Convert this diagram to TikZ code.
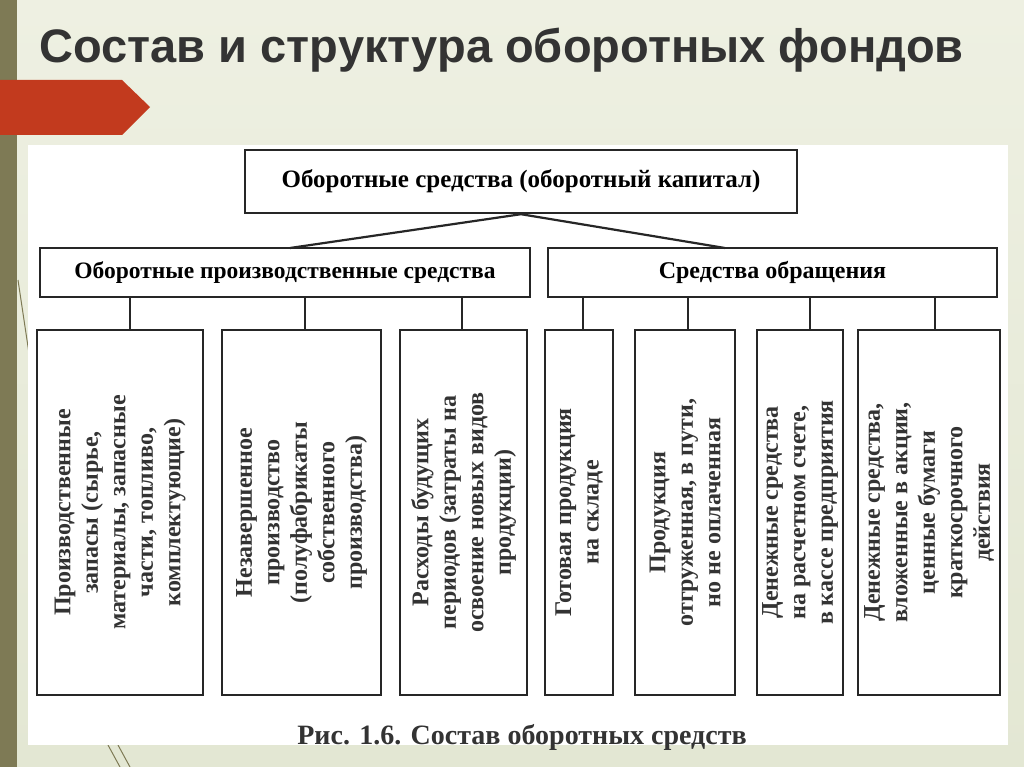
\documentclass[tikz,border=0pt]{standalone}
\usepackage{fontspec}
\setmainfont{Liberation Serif}
\newfontfamily\titlefont{Liberation Sans}
\definecolor{bgA}{HTML}{EEF0E2}
\definecolor{bgB}{HTML}{E3E7D3}
\definecolor{barc}{HTML}{7E7A55}
\definecolor{redc}{HTML}{C23A1E}
\begin{document}
\begin{tikzpicture}[x=1pt,y=-1pt,
  bx/.style={draw=black!85,line width=2.4pt,fill=white,inner sep=0pt},
  ln/.style={draw=black!85,line width=2.2pt},
  vt/.style={rotate=90,align=center,font=\bfseries\fontsize{24}{27.5}\selectfont,text=black!80}]
\useasboundingbox (0,0) rectangle (1024,767);
\shade[top color=bgA,bottom color=bgB] (0,0) rectangle (1024,767);
\fill[barc] (0,0) rectangle (17,767);
\fill[redc] (0,80) -- (122,80) -- (150,107) -- (122,135) -- (0,135) -- cycle;
\draw[barc,line width=1pt] (18,280) -- (30,360);
\draw[barc,line width=1pt] (108,745) -- (120,767) (118,745) -- (130,767);
\node[anchor=west,font=\titlefont\bfseries\fontsize{47}{52}\selectfont,text=black!80] (title) at (36,50) {Состав и структура оборотных фондов};
\fill[white] (28,145) rectangle (1008,745);
\node[bx,minimum width=552,minimum height=63,font=\bfseries\fontsize{25}{28}\selectfont] (top) at (521,181.5) {Оборотные средства (оборотный капитал)};
\node[bx,minimum width=490,minimum height=49,font=\bfseries\fontsize{23.5}{28}\selectfont] (L) at (285,272.5) {Оборотные производственные средства};
\node[bx,minimum width=449,minimum height=49,font=\bfseries\fontsize{24}{28}\selectfont] (R) at (772.5,272.5) {Средства обращения};
\coordinate (tl) at (290,248); \coordinate (tr) at (725,248);
\draw[ln] (top.south) -- (tl); \draw[ln] (top.south) -- (tr);
\foreach \n/\xa/\xb/\t in {
 b1/37/203/{Производственные\\запасы (сырье,\\материалы, запасные\\части, топливо,\\комплектующие)},
 b2/222/381/{Незавершенное\\производство\\(полуфабрикаты\\собственного\\производства)},
 b3/400/527/{Расходы будущих\\периодов (затраты на\\освоение новых видов\\продукции)},
 b4/545/613/{Готовая продукция\\на складе},
 b5/635/735/{Продукция\\отгруженная, в пути,\\но не оплаченная},
 b6/757/843/{Денежные средства\\на расчетном счете,\\в кассе предприятия},
 b7/858/1000/{Денежные средства,\\вложенные в акции,\\ценные бумаги\\краткосрочного\\действия}}{
 \node[bx,minimum width={\xb-\xa},minimum height=365] (\n) at ({(\xa+\xb)/2},512.5) {};
 \node[vt] at (\n.center) {\t};
}
\foreach \x in {130,305,462,583,688,810,935}
 \draw[ln] (\x,297) -- (\x,330);
\node[font=\bfseries\fontsize{28}{30}\selectfont,text=black!80] (cap) at (522,737) {Рис. 1.6. Состав оборотных средств};
\end{tikzpicture}
\end{document}
